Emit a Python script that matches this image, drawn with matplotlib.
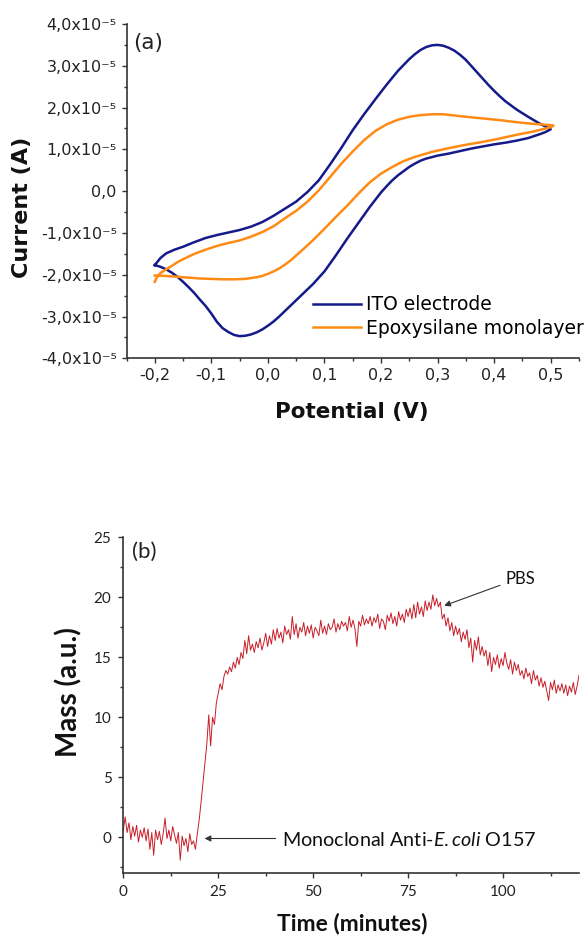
import matplotlib
matplotlib.use("Agg")
import matplotlib.pyplot as plt
from matplotlib.ticker import MultipleLocator, FuncFormatter
import numpy as np

plt.rcParams['axes.unicode_minus'] = False
plt.rcParams['mathtext.fontset'] = 'custom'
plt.rcParams['mathtext.rm'] = 'Lato'
plt.rcParams['mathtext.it'] = 'Lato:italic'

# ---------------- data: panel (a) cyclic voltammetry (current in 1e-5 A) ----------------
CURRENT_UNIT = 1e-5

ito_potential = [
    -0.200, -0.190, -0.180, -0.165, -0.150, -0.130, -0.110, -0.090, -0.070, -0.050,
    -0.030, -0.010, 0.010, 0.030, 0.050, 0.070, 0.090, 0.110, 0.130, 0.150,
    0.170, 0.190, 0.210, 0.230, 0.250, 0.260, 0.270, 0.280, 0.290, 0.300,
    0.310, 0.320, 0.330, 0.340, 0.350, 0.360, 0.370, 0.380, 0.390, 0.400,
    0.410, 0.420, 0.440, 0.460, 0.480, 0.500,
    0.490, 0.480, 0.460, 0.440, 0.420, 0.400, 0.380, 0.360, 0.340, 0.320,
    0.300, 0.280, 0.270, 0.260, 0.250, 0.240, 0.230, 0.220, 0.210, 0.200,
    0.180, 0.160, 0.140, 0.120, 0.100, 0.080, 0.060, 0.040, 0.020, 0.010,
    0.000, -0.010, -0.020, -0.030, -0.040, -0.050, -0.060, -0.070, -0.080, -0.090,
    -0.100, -0.110, -0.120, -0.130, -0.140, -0.150, -0.160, -0.170, -0.180, -0.190,
    -0.200]
ito_current = [
    -1.77, -1.60, -1.49, -1.40, -1.33, -1.22, -1.12, -1.05, -0.99, -0.93,
    -0.85, -0.74, -0.59, -0.42, -0.25, -0.02, 0.26, 0.64, 1.04, 1.46,
    1.84, 2.20, 2.55, 2.88, 3.16, 3.28, 3.38, 3.45, 3.49, 3.50,
    3.48, 3.43, 3.36, 3.26, 3.14, 2.99, 2.84, 2.69, 2.54, 2.40,
    2.27, 2.15, 1.95, 1.78, 1.62, 1.48,
    1.41, 1.36, 1.27, 1.21, 1.16, 1.12, 1.07, 1.02, 0.96, 0.90,
    0.85, 0.78, 0.73, 0.66, 0.58, 0.48, 0.38, 0.26, 0.12, -0.03,
    -0.38, -0.76, -1.14, -1.54, -1.92, -2.22, -2.48, -2.74, -3.00, -3.12,
    -3.22, -3.31, -3.38, -3.43, -3.46, -3.47, -3.44, -3.37, -3.28, -3.13,
    -2.93, -2.75, -2.60, -2.44, -2.30, -2.17, -2.05, -1.95, -1.87, -1.81,
    -1.77]

epoxy_potential = [
    -0.200, -0.197, -0.190, -0.180, -0.170, -0.160, -0.150, -0.130, -0.110, -0.090,
    -0.070, -0.050, -0.030, -0.010, 0.010, 0.030, 0.050, 0.070, 0.090, 0.110,
    0.130, 0.150, 0.170, 0.190, 0.210, 0.230, 0.250, 0.270, 0.290, 0.310,
    0.330, 0.350, 0.380, 0.410, 0.440, 0.470, 0.500, 0.505,
    0.500, 0.470, 0.440, 0.410, 0.380, 0.350, 0.320, 0.290, 0.260, 0.240,
    0.220, 0.200, 0.180, 0.160, 0.140, 0.120, 0.100, 0.080, 0.060, 0.040,
    0.030, 0.020, 0.010, 0.000, -0.010, -0.020, -0.030, -0.040, -0.060, -0.080,
    -0.100, -0.120, -0.140, -0.160, -0.180, -0.200]
epoxy_current = [
    -2.17, -2.08, -1.96, -1.87, -1.79, -1.70, -1.63, -1.50, -1.40, -1.31,
    -1.24, -1.18, -1.09, -0.98, -0.84, -0.65, -0.47, -0.25, 0.02, 0.34,
    0.66, 0.95, 1.22, 1.44, 1.60, 1.71, 1.78, 1.82, 1.84, 1.84,
    1.81, 1.78, 1.74, 1.70, 1.65, 1.61, 1.58, 1.57,
    1.53, 1.43, 1.35, 1.26, 1.18, 1.11, 1.03, 0.94, 0.82, 0.72,
    0.58, 0.42, 0.21, -0.06, -0.35, -0.62, -0.90, -1.17, -1.42, -1.66,
    -1.76, -1.85, -1.92, -1.98, -2.03, -2.06, -2.08, -2.10, -2.11, -2.11,
    -2.10, -2.09, -2.07, -2.05, -2.03, -2.02]

series_labels = ["ITO electrode", "Epoxysilane monolayer"]
x_ticks_a = [-0.2, -0.1, 0.0, 0.1, 0.2, 0.3, 0.4, 0.5]

# ---------------- data: panel (b) mass vs time (0.5 min steps) ----------------
time_step = 0.5
mass = [
    0.6, 1.7, 0.4, 1.2, -0.2, 0.9, 0.1, 1.0, -0.4, 0.6,
    0.0, 0.8, -0.3, 0.7, -1.0, 0.4, -1.5, 0.6, -0.2, 0.5,
    -0.6, 0.3, 1.6, -0.1, 0.6, -0.3, 0.9, 0.2, -0.5, 0.4,
    -1.9, 0.1, -0.7, -0.1, -1.2, 0.3, -0.6, -0.3, -1.0, 0.3,
    1.5, 3.0, 4.6, 6.2, 7.8, 10.2, 7.6, 10.0, 9.4, 11.2,
    12.0, 12.8, 12.3, 13.4, 13.9, 13.6, 14.2, 13.8, 14.6, 14.1,
    15.0, 14.4, 15.4, 14.9, 16.4, 15.3, 16.8, 15.6, 16.1, 15.4,
    16.3, 15.8, 16.6, 15.6, 16.2, 17.0, 15.9, 16.8, 16.1, 17.3,
    16.4, 17.4, 16.6, 17.1, 16.2, 17.6, 16.9, 17.3, 16.5, 18.4,
    16.9, 17.8, 16.6, 17.5, 17.1, 17.9, 16.8, 17.6, 17.0, 17.7,
    16.6, 17.5, 17.2, 16.8, 18.1, 17.0, 17.6, 16.9, 17.8, 17.3,
    17.5, 18.2, 17.1, 17.8, 17.3, 18.0, 17.6, 17.9, 17.2, 18.4,
    17.5, 18.1, 17.4, 15.9, 18.0, 17.6, 18.5, 17.7, 18.2, 17.8,
    18.4, 17.6, 18.3, 17.9, 18.6, 17.4, 18.2, 18.0, 17.3, 18.5,
    18.0, 18.7, 17.8, 18.4, 17.6, 18.8, 18.1, 18.6, 17.9, 19.0,
    18.4, 19.1, 18.2, 19.4, 18.3, 19.6, 18.6, 19.2, 18.4, 19.7,
    18.9, 19.6, 19.0, 20.2, 19.3, 19.9, 19.2, 19.6, 18.2, 18.6,
    17.6, 18.3, 17.2, 17.9, 16.8, 17.6, 16.9, 17.4, 16.3, 17.1,
    16.5, 17.3, 15.8, 16.6, 14.6, 16.4, 15.6, 16.7, 15.2, 15.9,
    15.1, 15.6, 14.3, 15.4, 13.8, 15.0, 14.4, 15.2, 14.1, 14.9,
    14.3, 15.4, 14.5, 14.0, 14.8, 13.6, 14.6, 13.9, 14.4, 13.5,
    13.9, 13.2, 14.1, 13.4, 13.7, 12.8, 13.9, 13.1, 13.5, 12.6,
    13.3, 12.5, 13.0, 12.2, 11.4, 12.9, 12.3, 13.1, 12.0, 12.7,
    12.2, 12.8, 12.0, 12.7, 11.8, 12.6, 12.1, 12.9, 11.9, 12.6,
    13.5]
x_ticks_b = [0, 25, 50, 75, 100]
y_ticks_b = [0, 5, 10, 15, 20, 25]
injection_label = r"Monoclonal Anti-$\mathit{E.coli}$ O157"
pbs_label = "PBS"

# ---------------- figure ----------------
W, H = 584, 935
fig = plt.figure(figsize=(W / 100, H / 100), dpi=100)


def fx(px):
    return px / W


def fy(py):
    return 1 - py / H


# ----- panel (a)
ax1 = fig.add_axes([fx(126.5), fy(358.3), (579 - 126.5) / W, (358.3 - 24) / H])
c_ito = "#141a8a"
c_epo = "#ff8a14"
ax1.plot(ito_potential, np.array(ito_current) * CURRENT_UNIT, color=c_ito, lw=1.8,
         label=series_labels[0], solid_joinstyle='round')
ax1.plot(epoxy_potential, np.array(epoxy_current) * CURRENT_UNIT, color=c_epo, lw=1.8,
         label=series_labels[1], solid_joinstyle='round')
ax1.set_xlim(-0.25, 0.55)
ax1.set_ylim(-4e-5, 4e-5)
ax1.set_xticks(x_ticks_a)
ax1.xaxis.set_minor_locator(MultipleLocator(0.05))
ax1.yaxis.set_major_locator(MultipleLocator(1e-5))
ax1.yaxis.set_minor_locator(MultipleLocator(0.5e-5))


def fmt_x(v, pos):
    if abs(v) < 1e-9:
        v = 0.0
    return f"{v:.1f}".replace(".", ",")


def fmt_y(v, pos):
    m = v / CURRENT_UNIT
    if abs(m) < 1e-9:
        return "0,0"
    return f"{m:.1f}".replace(".", ",") + "x10\u207b\u2075"


ax1.xaxis.set_major_formatter(FuncFormatter(fmt_x))
ax1.yaxis.set_major_formatter(FuncFormatter(fmt_y))
for s in ["top", "right"]:
    ax1.spines[s].set_visible(False)
for s in ["left", "bottom"]:
    ax1.spines[s].set_linewidth(1.2)
    ax1.spines[s].set_color("#333333")
ax1.tick_params(which="major", direction="out", length=3.5, width=1.0, color="#333333",
                labelsize=11.5, labelcolor="#222222", pad=3.5)
ax1.tick_params(which="minor", direction="out", length=2.0, width=1.0, color="#333333")
ax1.text(0.015, 0.943, "(a)", transform=ax1.transAxes, fontsize=15.5, va="center",
         ha="left", color="#222222")
ax1.legend(loc="center left", bbox_to_anchor=(fx(313), fy(316.5)),
           bbox_transform=fig.transFigure, frameon=False, fontsize=13.5,
           borderpad=0, borderaxespad=0, handlelength=2.55, handletextpad=0.3,
           labelspacing=0.25)
fig.text(fx(352), fy(412), "Potential (V)", fontsize=15.5, fontweight="bold",
         ha="center", va="center", color="#111111")
fig.text(fx(22), fy(207), "Current (A)", fontsize=16, fontweight="bold",
         ha="center", va="center", rotation=90, color="#111111")

# ----- panel (b)
ax2 = fig.add_axes([fx(123.3), fy(873.3), (579 - 123.3) / W, (873.3 - 537.3) / H])
time = np.arange(len(mass)) * time_step
ax2.plot(time, mass, color="#c81e28", lw=0.7)
ax2.set_xlim(0, 120)
ax2.set_ylim(-3, 25)
ax2.set_xticks(x_ticks_b)
ax2.set_yticks(y_ticks_b)
ax2.xaxis.set_minor_locator(MultipleLocator(12.5))
ax2.yaxis.set_minor_locator(MultipleLocator(2.5))
for s in ["top", "right"]:
    ax2.spines[s].set_visible(False)
for s in ["left", "bottom"]:
    ax2.spines[s].set_linewidth(1.2)
    ax2.spines[s].set_color("#333333")
ax2.tick_params(which="major", direction="out", length=3.5, width=1.0, color="#333333",
                labelsize=11, labelcolor="#222222", pad=5)
ax2.tick_params(which="minor", direction="out", length=2.0, width=1.0, color="#333333")
for lab in ax2.get_xticklabels() + ax2.get_yticklabels():
    lab.set_fontfamily("Lato")
ax2.text(0.019, 0.958, "(b)", transform=ax2.transAxes, fontsize=16, va="center",
         ha="left", family="Lato", color="#222222")
# PBS annotation
ax2.text(100.7, 21.55, pbs_label, fontsize=12, family="Lato", va="center", ha="left",
         color="#111111")
ax2.annotate("", xy=(84.5, 19.3), xytext=(99.2, 21.0),
             arrowprops=dict(arrowstyle="-|>", color="#333333", lw=0.8,
                             mutation_scale=9, shrinkA=0, shrinkB=0))
# injection annotation
ax2.text(41.9, -0.2, injection_label, fontsize=14.2, family="Lato", va="center",
         ha="left", color="#111111")
ax2.annotate("", xy=(21.4, -0.1), xytext=(40.1, -0.1),
             arrowprops=dict(arrowstyle="-|>", color="#333333", lw=0.8,
                             mutation_scale=9, shrinkA=0, shrinkB=0))
fig.text(fx(352), fy(923), "Time (minutes)", fontsize=16.5, fontweight="bold",
         family="Lato", ha="center", va="center", color="#111111")
fig.text(fx(69), fy(692.5), "Mass (a.u.)", fontsize=20, fontweight="bold",
         family="Lato", ha="center", va="center", rotation=90, color="#111111")

fig.savefig("out.png", dpi=100)
